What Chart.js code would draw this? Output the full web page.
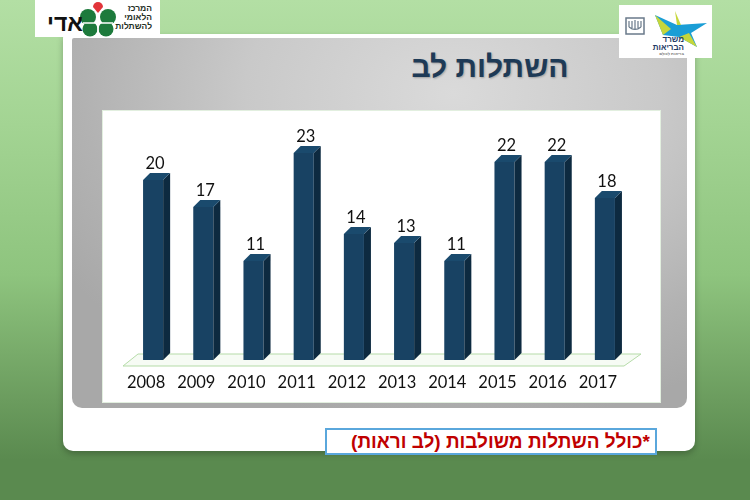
<!DOCTYPE html>
<html lang="he">
<head>
<meta charset="utf-8">
<script src="https://cdn.jsdelivr.net/npm/chart.js@4.4.0/dist/chart.umd.min.js"></script>
<style>
  html, body { margin:0; padding:0; }
  body { width:750px; height:500px; position:relative; overflow:hidden;
    background: linear-gradient(to bottom, #b3dfa4 0%, #a3d493 25%, #8ec47e 55%, #6b9c5e 80%, #5a8a4f 92%, #5a8a4f 100%);
    font-family: "Liberation Sans", Arial, sans-serif; }
  #white { position:absolute; left:63px; top:34px; width:632px; height:417px; background:#fff;
    border-radius:4px 4px 10px 10px; box-shadow: 0 3px 6px rgba(0,0,0,0.25); }
  #gray { position:absolute; left:72px; top:38px; width:615px; height:370px;
    border-radius:2px 2px 10px 10px;
    background: radial-gradient(ellipse 75% 90% at 62% 15%, #dadada 0%, #c9c9c9 45%, #b2b2b2 80%, #a8a8a8 100%); }
  #title { position:absolute; left:380px; top:50px; width:220px; text-align:center; direction:rtl;
    font-family:"Liberation Sans", Arial, sans-serif; font-weight:bold; font-size:30px; color:#1e3a56;
    text-shadow: 1px 1px 2px rgba(0,0,0,0.25); }
  #chartbox { position:absolute; left:103px; top:111px; width:557px; height:291px; background:#fff;
    box-shadow: 0 0 0 1px #e2efdf; }
  #note { position:absolute; left:325px; top:428px; width:328px; height:23px; background:#fff;
    border:2px solid #5aa7dc; direction:rtl; text-align:right; box-sizing:content-box;
    font-family:"Liberation Sans", Arial, sans-serif; font-weight:bold; font-size:19px; color:#c00000;
    line-height:23px; padding:0; }
  #note span { padding-right:5px; }
  #logoL { position:absolute; left:35px; top:0; width:125px; height:37px; background:#fff; }
  #logoR { position:absolute; left:619px; top:5px; width:93px; height:53px; background:#fff; }
  .lt { position:absolute; direction:rtl; font-weight:bold; white-space:nowrap; }
</style>
</head>
<body>
<div id="white"></div>
<div id="gray"></div>
<div id="title">השתלות לב</div>
<div id="chartbox"><canvas id="c"></canvas></div>
<div id="note"><span>*כולל השתלות משולבות (לב וראות)</span></div>

<div id="logoL">
  <svg width="125" height="37" style="position:absolute;left:0;top:0">
    <circle cx="53" cy="17" r="8" fill="#1d7a3c"/>
    <circle cx="73" cy="17" r="8" fill="#1d7a3c"/>
    <circle cx="55" cy="29" r="7.5" fill="#1d7a3c"/>
    <circle cx="71" cy="29" r="7.5" fill="#1d7a3c"/>
    <path d="M63 13 L58 7 A5 5 0 1 1 68 7 Z" fill="#e2343a"/>
    <line x1="63" y1="23" x2="63" y2="36" stroke="#fff" stroke-width="1.5"/>
    <line x1="48" y1="23" x2="78" y2="23" stroke="#fff" stroke-width="1.5"/>
  </svg>
  <div class="lt" style="left:12px;top:10px;font-size:23px;color:#111;">אדי</div>
  <div class="lt" style="right:8px;top:4px;font-size:8.5px;line-height:9px;color:#1f2f1f;text-align:right;">המרכז<br>הלאומי<br>להשתלות</div>
</div>

<div id="logoR">
  <svg width="93" height="53" style="position:absolute;left:0;top:0">
    <rect x="7" y="13" width="18" height="16" fill="none" stroke="#6a7a8a" stroke-width="1.5"/>
    <path d="M10 16 L10 22 M13 16 L13 23 M16 15 L16 25 M19 16 L19 23 M22 16 L22 22 M10 22 Q16 27 22 22" stroke="#6a7a8a" stroke-width="1.2" fill="none"/>
    <path d="M36 10 L58 20 L88 18 L72 28 L78 42 L60 32 L44 30 Z" fill="#1a9ed6"/>
    <path d="M36 10 L52 24 L44 30 Z" fill="#c6d63a"/>
    <path d="M60 32 L78 42 L70 28 Z" fill="#c6d63a"/>
    <path d="M56 6 L62 20 L58 20 Z" fill="#c6d63a"/>
  </svg>
  <div class="lt" style="right:28px;top:31px;font-size:8px;line-height:8px;color:#1e3a66;text-align:right;">משרד<br>הבריאות</div>
  <div class="lt" style="right:28px;top:47px;font-size:4px;line-height:4px;color:#777;">בריאות לכולם</div>
</div>

<script>
const years = ['2008','2009','2010','2011','2012','2013','2014','2015','2016','2017'];
const transplants = [20, 17, 11, 23, 14, 13, 11, 22, 22, 18];
const yAxisMax = 25;

const DEPTH = 7;
const FRONT = '#184263';
const SIDE = '#0d2a40';
const TOP = '#1a4a6d';

const floorPlugin = {
  id: 'floor3d',
  beforeDatasetsDraw(chart) {
    const ctx = chart.ctx;
    const a = chart.chartArea;
    const y0 = chart.scales.y.getPixelForValue(0);
    ctx.save();
    ctx.beginPath();
    ctx.moveTo(a.left - 5, y0 + 6);
    ctx.lineTo(a.right - 6, y0 + 6);
    ctx.lineTo(a.right + 11, y0 - 6);
    ctx.lineTo(a.left + 10, y0 - 6);
    ctx.closePath();
    ctx.fillStyle = '#f6fbf4';
    ctx.fill();
    ctx.strokeStyle = '#b5dba8';
    ctx.lineWidth = 1;
    ctx.stroke();
    ctx.restore();
  },
  afterDatasetsDraw(chart) {
    const ctx = chart.ctx;
    const meta = chart.getDatasetMeta(0);
    const values = chart.data.datasets[0].data;
    ctx.save();
    meta.data.forEach((bar, i) => {
      const p = bar.getProps(['x', 'y', 'base', 'width'], true);
      const L = p.x - p.width / 2, R = p.x + p.width / 2;
      const d = DEPTH;
      ctx.beginPath();
      ctx.moveTo(R, p.y);
      ctx.lineTo(R + d, p.y - d);
      ctx.lineTo(R + d, p.base - d);
      ctx.lineTo(R, p.base);
      ctx.closePath();
      ctx.fillStyle = SIDE;
      ctx.fill();
      ctx.beginPath();
      ctx.moveTo(L, p.y);
      ctx.lineTo(R, p.y);
      ctx.lineTo(R + d, p.y - d);
      ctx.lineTo(L + d, p.y - d);
      ctx.closePath();
      ctx.fillStyle = TOP;
      ctx.fill();
      ctx.fillStyle = '#111';
      ctx.font = '16.5px Lato, "Open Sans", sans-serif';
      ctx.textAlign = 'center';
      ctx.textBaseline = 'bottom';
      ctx.fillText(String(values[i]), p.x + 2, p.y - d - 1);
    });
    ctx.restore();
  }
};

new Chart(document.getElementById('c'), {
  type: 'bar',
  data: {
    labels: years,
    datasets: [{
      data: transplants,
      backgroundColor: FRONT,
      borderWidth: 0,
      barPercentage: 0.4,
      categoryPercentage: 1.0
    }]
  },
  options: {
    responsive: true,
    maintainAspectRatio: false,
    animation: false,
    layout: { padding: { left: 25, right: 30, top: 24, bottom: 0 } },
    plugins: { legend: { display: false }, tooltip: { enabled: false }, title: { display: false } },
    scales: {
      x: {
        grid: { display: false, drawTicks: false },
        border: { display: false },
        ticks: { color: '#111', font: { family: 'Lato, "Open Sans", sans-serif', size: 16.5 }, padding: 13, labelOffset: -7, maxRotation: 0 },
        afterFit(scale) { scale.height = 42; }
      },
      y: { display: false, min: 0, max: yAxisMax }
    }
  },
  plugins: [floorPlugin]
});
</script>
</body>
</html>
